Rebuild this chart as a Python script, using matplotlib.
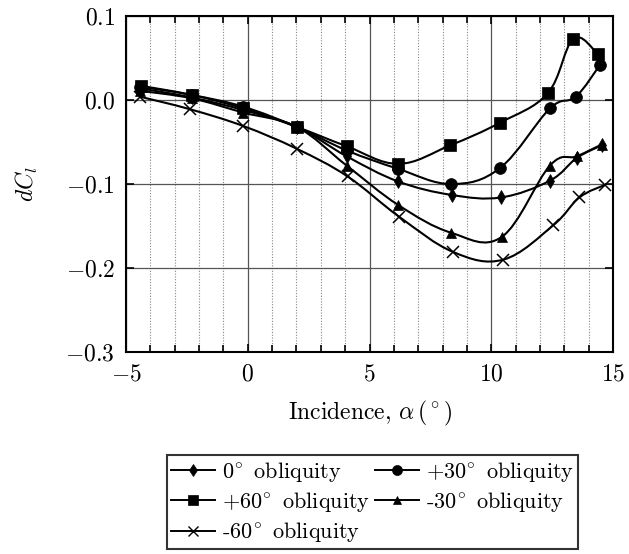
import numpy as np
import matplotlib
matplotlib.use("Agg")
import matplotlib.pyplot as plt
from matplotlib.path import Path
from matplotlib.patches import PathPatch
from matplotlib.lines import Line2D

plt.rcParams["font.family"] = "serif"
plt.rcParams["font.serif"] = ["cmr10", "DejaVu Serif"]
plt.rcParams["mathtext.fontset"] = "cm"
plt.rcParams["axes.formatter.use_mathtext"] = True

# data
alpha_0 = [-4.43, -2.30, -0.18, 2.01, 4.06, 6.18, 8.37, 10.40, 12.41, 13.51, 14.53]
dcl_0 = [0.014, 0.003, -0.012, -0.032, -0.067, -0.097, -0.113, -0.116, -0.096, -0.069, -0.054]

alpha_p30 = [-4.43, -2.30, -0.18, 2.01, 4.06, 6.18, 8.35, 10.36, 12.41, 13.47, 14.47]
dcl_p30 = [0.016, 0.006, -0.008, -0.032, -0.060, -0.082, -0.100, -0.081, -0.010, 0.004, 0.042]

alpha_p60 = [-4.40, -2.30, -0.18, 2.01, 4.06, 6.18, 8.31, 10.36, 12.32, 13.37, 14.37]
dcl_p60 = [0.017, 0.006, -0.010, -0.032, -0.055, -0.076, -0.054, -0.027, 0.008, 0.073, 0.055]

alpha_m30 = [-4.43, -2.30, -0.18, 2.01, 4.06, 6.18, 8.35, 10.43, 12.41, 13.51, 14.53]
dcl_m30 = [0.011, 0.002, -0.015, -0.032, -0.078, -0.125, -0.158, -0.163, -0.078, -0.067, -0.053]

alpha_m60 = [-4.43, -2.37, -0.18, 2.01, 4.10, 6.22, 8.44, 10.50, 12.55, 13.62, 14.67]
dcl_m60 = [0.004, -0.011, -0.031, -0.058, -0.091, -0.139, -0.181, -0.190, -0.149, -0.116, -0.101]

labels = [r"0$^{\!\circ}$ obliquity", r"+30$^{\!\circ}$ obliquity", r"+60$^{\!\circ}$ obliquity",
          r"-30$^{\!\circ}$ obliquity", r"-60$^{\!\circ}$ obliquity"]
markers = ["d", "o", "s", "^", "x"]
msizes = [7.5, 8.5, 8.5, 7.5, 8.5]

series = [(alpha_0, dcl_0), (alpha_p30, dcl_p30), (alpha_p60, dcl_p60),
          (alpha_m30, dcl_m30), (alpha_m60, dcl_m60)]


def smooth_path(x, y, k=0.18):
    # cubic bezier through the points, like pgfplots "smooth"
    p = np.column_stack([x, y])
    n = len(p)
    verts = [p[0]]
    codes = [Path.MOVETO]
    for i in range(n - 1):
        p0 = p[i - 1] if i > 0 else p[i]
        p3 = p[i + 2] if i + 2 < n else p[i + 1]
        c1 = p[i] + (p[i + 1] - p0) * k
        c2 = p[i + 1] - (p3 - p[i]) * k
        verts += [c1, c2, p[i + 1]]
        codes += [Path.CURVE4] * 3
    return Path(verts, codes)


fig = plt.figure(figsize=(6.29, 5.54), dpi=100)
ax = fig.add_axes([0.2003, 0.3646, 0.7743, 0.6065])

for (x, y), m, ms in zip(series, markers, msizes):
    ax.add_patch(PathPatch(smooth_path(x, y), fill=False, edgecolor="black",
                           lw=1.5, zorder=3))
    ax.plot(x, y, linestyle="none", marker=m, color="black", ms=ms,
            mew=1.1 if m == "x" else 0.5, zorder=4)

ax.set_xlim(-5, 15)
ax.set_ylim(-0.3, 0.1)
ax.set_xticks([-5, 0, 5, 10, 15])
ax.set_xticks(np.arange(-5, 16, 1), minor=True)
ax.set_yticks([-0.3, -0.2, -0.1, 0.0, 0.1])
ax.set_yticklabels([r"$-0.3$", r"$-0.2$", r"$-0.1$", r"$0.0$", r"$0.1$"])
ax.set_xticklabels([r"$-5$", r"$0$", r"$5$", r"$10$", r"$15$"])

ax.grid(which="major", color="#555555", lw=0.9, ls="-")
ax.grid(which="minor", axis="x", color="#888888", lw=0.8, ls=(0, (1, 1.5)))
ax.tick_params(which="both", direction="in", top=True, right=True,
               labelsize=17, width=1.2, pad=8)
ax.tick_params(which="major", length=6)
ax.tick_params(which="minor", length=5)
for s in ax.spines.values():
    s.set_linewidth(1.5)

ax.set_xlabel(r"Incidence, $\alpha\,(^\circ)$", fontsize=17, labelpad=10)
ax.set_ylabel(r"$dC_l$", fontsize=17, labelpad=18)

handles = [Line2D([], [], color="black", lw=1.4, marker=m, ms=ms * 0.85,
                  mew=1.0 if m == "x" else 0.5)
           for m, ms in zip(markers, msizes)]
# legend is filled column by column, so reorder to get rows like the reference
order = [0, 2, 4, 1, 3]
leg = fig.legend([handles[i] for i in order], [labels[i] for i in order],
                 loc="upper center", bbox_to_anchor=(0.592, 0.198),
                 ncol=2, fontsize=16, frameon=True, fancybox=False,
                 edgecolor="black", handlelength=2.0, handletextpad=0.3,
                 columnspacing=0.2, labelspacing=0.28, borderpad=0.2)
leg.get_frame().set_linewidth(1.5)

fig.savefig("out.png", dpi=100)
